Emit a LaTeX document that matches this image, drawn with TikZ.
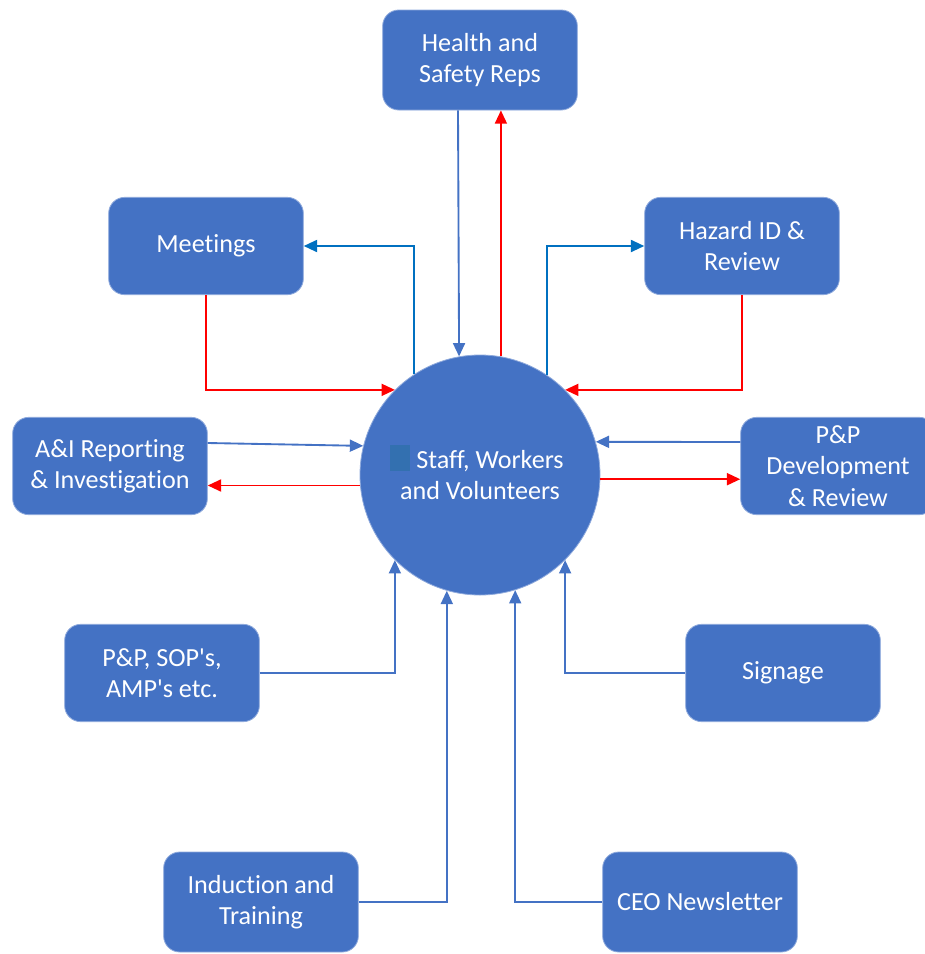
\documentclass[tikz,border=0pt]{standalone}
\usepackage{fontspec}
\setmainfont[Ligatures={NoCommon}]{Carlito}
\usetikzlibrary{arrows.meta,calc}
\definecolor{boxblue}{HTML}{4472C4}
\definecolor{boxedge}{HTML}{8FAADC}
\definecolor{lineblue}{HTML}{4472C4}
\definecolor{brightblue}{HTML}{0070C0}
\definecolor{arrred}{HTML}{FF0000}
\definecolor{markblue}{HTML}{3370B0}
\tikzset{
  box/.style={draw=boxedge, line width=0.6pt, fill=boxblue, rounded corners=12pt,
    minimum width=146pt, minimum height=73pt, text=white, align=center,
    font=\fontsize{19.6}{23.5}\selectfont, inner sep=2pt},
  hub/.style={circle, draw=boxedge, line width=0.6pt, fill=boxblue, minimum size=180pt,
    text=white, align=center, font=\fontsize{19.6}{23.5}\selectfont, inner sep=0pt},
  bl/.style={draw=lineblue, line width=1.4pt, -{Triangle[length=10pt,width=9pt]}},
  bb/.style={draw=brightblue, line width=1.4pt, -{Triangle[length=10pt,width=9pt]}},
  rd/.style={draw=arrred, line width=1.4pt, -{Triangle[length=10pt,width=9pt]}},
}
\begin{document}
\begin{tikzpicture}[x=0.75pt, y=-0.75pt]
\useasboundingbox (0,0) rectangle (925,954);
\node[hub] (staff) at (480,475) {\hspace*{15pt}Staff, Workers\\and Volunteers};
\fill[markblue] (390,445) rectangle (410,471);
\node[box, minimum height=75pt] (hs) at (480,60) {Health and\\Safety Reps};
\node[box] (meet) at (206,246) {Meetings};
\node[box] (haz) at (742,246) {Hazard ID \&\\Review};
\node[box] (ai) at (110,466) {A\&I Reporting\\\& Investigation};
\node[box] (pdev) at (838,466) {P\&P\\Development\\\& Review};
\node[box] (pps) at (162,673) {P\&P, SOP\textquotesingle s,\\AMP\textquotesingle s etc.};
\node[box] (sig) at (783,673) {Signage};
\node[box, minimum height=75pt] (ind) at (261,902) {Induction and\\Training};
\node[box, minimum height=75pt] (ceo) at (700,902) {CEO Newsletter};
% Health and Safety Reps
\draw[bl] ($(hs.south)+(-22,0)$) -- (staff.100.6);
\draw[rd] (staff.80) -- (staff.80 |- hs.south);
% Meetings
\draw[bb] (staff.123.4) |- (meet.east);
\draw[rd] (meet.south) |- (staff.135);
% Hazard
\draw[bb] (staff.56.6) |- (haz.west);
\draw[rd] (haz.south) |- (staff.45);
% A&I
\draw[bl] ($(ai.east)+(0,-23)$) -- (staff.166.5);
\draw[rd] (staff.185.7) -- (staff.185.7 -| ai.east);
% P&P development
\draw[bl] ($(pdev.west)+(0,-24)$) -- (staff.16);
\draw[rd] (staff.-2.4) -- (staff.-2.4 -| pdev.west);
% lower inputs
\draw[bl] (pps.east) -| (staff.225.6);
\draw[bl] (sig.west) -| (staff.-45);
\draw[bl] (ind.east) -| (staff.254);
\draw[bl] (ceo.west) -| (staff.287.5);
\end{tikzpicture}
\end{document}
